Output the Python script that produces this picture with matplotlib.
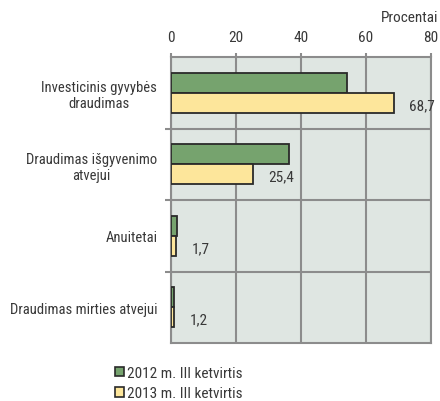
import matplotlib
matplotlib.use("Agg")
import matplotlib.pyplot as plt
from matplotlib.patches import Patch

plt.rcParams['font.family'] = ["Roboto Condensed", "Liberation Sans", "DejaVu Sans"]

categories = ["Investicinis gyvybės\ndraudimas", "Draudimas išgyvenimo\natvejui", "Anuitetai", "Draudimas mirties atvejui"]
series_2012 = [54.1, 36.4, 1.9, 1.1]
series_2013 = [68.7, 25.4, 1.7, 1.2]
labels_2013 = ["68,7", "25,4", "1,7", "1,2"]
series_names = ["2012 m. III ketvirtis", "2013 m. III ketvirtis"]
xticks = [0, 20, 40, 60, 80]

green = "#76a36e"
yellow = "#fde69b"
edge = "#2a2a2a"
gridc = "#8c8c8c"
txtc = "#383838"
fs = 11

fig = plt.figure(figsize=(4.4, 4.02), dpi=100)
ax = fig.add_axes([170.5/440, 1-344/402, (431-170.5)/440, (344-58)/402])
ax.set_facecolor("#dfe6e2")

h = 0.28
ys = list(range(len(categories)))
ax.barh([y - h/2 for y in ys], series_2012, height=h, color=green, edgecolor=edge, linewidth=1.3, zorder=3)
ax.barh([y + h/2 for y in ys], series_2013, height=h, color=yellow, edgecolor=edge, linewidth=1.3, zorder=3)
for y, v, lab in zip(ys, series_2013, labels_2013):
    ax.annotate(lab, (v, y + h/2), xytext=(11, -1.5), textcoords="offset points",
                ha="left", va="center", fontsize=fs, color=txtc)

ax.set_xlim(0, 80)
ax.set_ylim(len(categories) - 0.5, -0.5)
ax.xaxis.tick_top()
ax.set_xticks(xticks)
ax.set_xticklabels([str(t) for t in xticks], fontsize=fs, color=txtc)
ax.tick_params(axis="x", length=3, width=1.5, color=gridc, pad=6)

ax.set_yticks(ys)
ax.set_yticklabels(categories, fontsize=10.5, color=txtc)
for lab in ax.get_yticklabels():
    lab.set_multialignment("center")
ax.tick_params(axis="y", which="major", length=0, pad=9.5)
ax.set_yticks([y + 0.5 for y in ys[:-1]], minor=True)
ax.tick_params(axis="y", which="minor", length=4, width=1.5, color=gridc)

ax.grid(True, axis="x", which="major", color=gridc, linewidth=1.5, zorder=1)
ax.grid(True, axis="y", which="minor", color=gridc, linewidth=1.5, zorder=1)
ax.set_axisbelow(True)
for s in ax.spines.values():
    s.set_color(gridc)
    s.set_linewidth(1.5)

fig.text(438/440, 1-18/402, "Procentai", ha="right", va="center", fontsize=fs, color=txtc)

handles = [Patch(facecolor=green, edgecolor=edge, linewidth=1.2),
           Patch(facecolor=yellow, edgecolor=edge, linewidth=1.2)]
fig.legend(handles, series_names, loc="upper left", bbox_to_anchor=(115/440, 1-367/402),
           frameon=False, fontsize=fs, handlelength=0.6, handleheight=0.6,
           handletextpad=0.2, labelspacing=0.4, borderaxespad=0, borderpad=0,
           labelcolor=txtc)

fig.savefig("out.png", dpi=100)
